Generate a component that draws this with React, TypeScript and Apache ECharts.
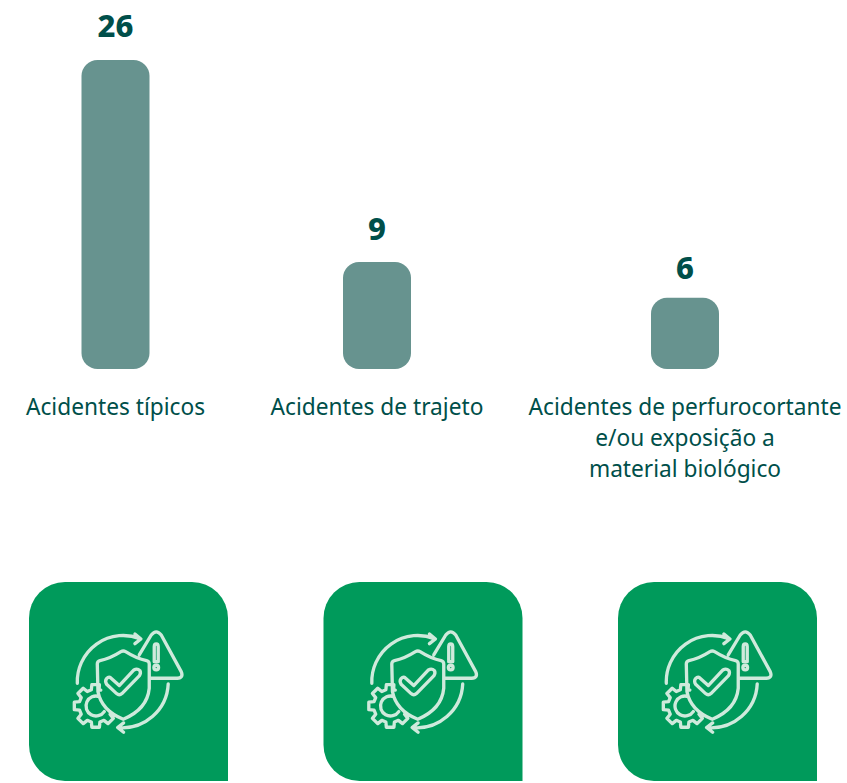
import React, { useEffect, useRef } from "react";
import * as echarts from "echarts";

const categories = [
  "Acidentes típicos",
  "Acidentes de trajeto",
  "Acidentes de perfurocortante\ne/ou exposição a\nmaterial biológico",
];
const values = [26, 9, 6];
const barCenters = [115.5, 377, 685];
const labelGaps = [20, 19, 15];
const cardLefts = [29, 323.5, 618];

const TEXT = "#004f4a";
const BAR = "#67938f";
const CARD = "#009a5b";
const ICON = "#cfeadc";
const FONT = "'Noto Sans', sans-serif";

function gearPath() {
  const cx = 107, cy = 258, ro = 65, ri = 50;
  const p = (r: number, deg: number) => {
    const a = (deg * Math.PI) / 180;
    return `${(cx + r * Math.cos(a)).toFixed(1)} ${(cy + r * Math.sin(a)).toFixed(1)}`;
  };
  const teeth = [-90, -135, -180, -225, -270, -315];
  let d = `M${p(ri, -72)} L${p(ri, -78)}`;
  teeth.forEach((t, i) => {
    d += ` L${p(ro, t + 10)} L${p(ro, t - 10)} L${p(ri, t - 15)}`;
    if (i < teeth.length - 1) d += ` L${p(ri, t - 30)}`;
  });
  return d;
}

const ICON_PATH = [
  // circular arrows
  "M52 190 A138 138 0 0 1 240 56",
  "M225 42 L243 57 L225 71",
  "M325 192 A138 138 0 0 1 174 323",
  "M191 309 L173 323 L191 337",
  // warning triangle
  "M238 105 L274 45 Q289 26 304 45 L364 155 Q372 174 352 175 L270 175",
  "M283 80 Q283 72 289 72 Q295 72 295 80 L295 125 L283 125 Z",
  "M296 143 A7 7 0 1 1 282 143 A7 7 0 1 1 296 143 Z",
  // shield
  "M183 95 Q190 91 197 95 Q230 116 260 122 Q268 124 268 132 L268 205 Q262 268 190 298 Q125 272 114 215 L112 132 Q112 124 120 122 Q150 116 183 95 Z",
  // check mark
  "M150 172 L178 197 L222 150 Q232 144 240 152 Q244 160 238 168 L186 221 Q178 228 170 221 L140 193 Q134 184 140 176 Q145 170 150 172 Z",
  // gear
  gearPath(),
  "M118 230 A30 30 0 1 0 133 275",
].join(" ");

echarts.graphic.registerShape("safetyIcon", echarts.graphic.extendPath(ICON_PATH, {}));

export default function App() {
  const ref = useRef<HTMLDivElement>(null);
  useEffect(() => {
    document.body.style.margin = "0";
    const chart = echarts.init(ref.current!, undefined, { renderer: "svg" });
    const gridW = 220;
    chart.setOption({
      animation: false,
      backgroundColor: "#ffffff",
      grid: barCenters.map((c) => ({
        left: c - gridW / 2,
        width: gridW,
        top: 60,
        height: 309,
      })),
      xAxis: categories.map((cat, i) => ({
        type: "category",
        gridIndex: i,
        data: [cat],
        axisLine: { show: false },
        axisTick: { show: false },
        axisLabel: {
          interval: 0,
          margin: 22,
          color: TEXT,
          fontFamily: FONT,
          fontSize: 22.7,
          lineHeight: 31,
        },
      })),
      yAxis: categories.map((_, i) => ({
        type: "value",
        gridIndex: i,
        min: 0,
        max: 26,
        show: false,
      })),
      series: values.map((v, i) => ({
        type: "bar",
        xAxisIndex: i,
        yAxisIndex: i,
        data: [v],
        barWidth: 68,
        itemStyle: { color: BAR, borderRadius: 16 },
        label: {
          show: true,
          position: "top",
          distance: labelGaps[i],
          color: TEXT,
          fontFamily: FONT,
          fontWeight: 800,
          fontSize: 31,
        },
      })),
      graphic: cardLefts.flatMap((x) => [
        {
          type: "rect",
          x,
          y: 582,
          shape: { width: 199, height: 199, r: [36, 36, 0, 36] },
          style: { fill: CARD },
        },
        {
          type: "safetyIcon",
          x: x + 31,
          y: 38 + 582,
          scaleX: 1 / 3,
          scaleY: 1 / 3,
          style: { fill: "none", stroke: ICON, lineWidth: 10, lineCap: "round", lineJoin: "round" },
        },
      ]),
    });
    return () => chart.dispose();
  }, []);
  return <div ref={ref} style={{ position: "absolute", left: 0, top: 0, width: 847, height: 783 }} />;
}
